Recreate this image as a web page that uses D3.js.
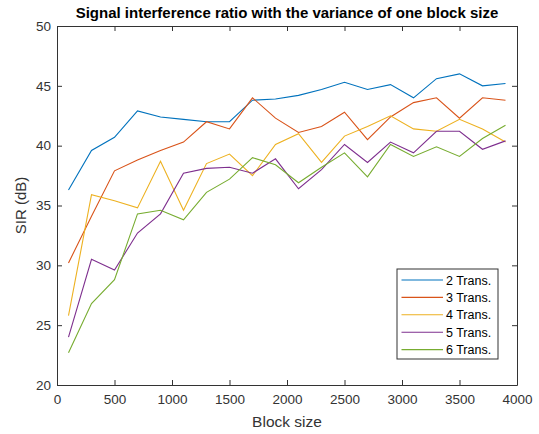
<!DOCTYPE html>
<html>
<head>
<meta charset="utf-8">
<script src="https://cdn.jsdelivr.net/npm/d3@7"></script>
<style>
  body { margin: 0; background: #fff; }
  text { font-family: Arial, "Liberation Sans", sans-serif; }
</style>
</head>
<body>
<svg id="chart" width="539" height="434"></svg>
<script>
var blockSizes = [100, 300, 500, 700, 900, 1100, 1300, 1500, 1700, 1900,
                  2100, 2300, 2500, 2700, 2900, 3100, 3300, 3500, 3700, 3900];

var trans2 = [36.3, 39.6, 40.7, 42.9, 42.4, 42.2, 42.0, 42.0, 43.8, 43.9,
              44.2, 44.7, 45.3, 44.7, 45.1, 44.0, 45.6, 46.0, 45.0, 45.2];
var trans3 = [30.2, 34.1, 37.9, 38.8, 39.6, 40.3, 42.0, 41.4, 44.0, 42.3,
              41.1, 41.6, 42.8, 40.5, 42.4, 43.6, 44.0, 42.3, 44.0, 43.8];
var trans4 = [25.8, 35.9, 35.4, 34.8, 38.7, 34.6, 38.5, 39.3, 37.5, 40.1,
              41.0, 38.6, 40.8, 41.6, 42.5, 41.4, 41.2, 42.2, 41.4, 40.3];
var trans5 = [24.0, 30.5, 29.6, 32.7, 34.3, 37.7, 38.1, 38.2, 37.7, 38.9,
              36.4, 38.0, 40.1, 38.6, 40.3, 39.4, 41.2, 41.2, 39.7, 40.4];
var trans6 = [22.7, 26.8, 28.8, 34.3, 34.6, 33.8, 36.1, 37.2, 39.0, 38.4,
              36.9, 38.2, 39.4, 37.4, 40.1, 39.1, 39.9, 39.1, 40.6, 41.7];

var seriesNames = ["2 Trans.", "3 Trans.", "4 Trans.", "5 Trans.", "6 Trans."];
var seriesValues = [trans2, trans3, trans4, trans5, trans6];
var colors = ["#0072BD", "#D95319", "#EDB120", "#7E2F8E", "#77AC30"];

var xTicks = [0, 500, 1000, 1500, 2000, 2500, 3000, 3500, 4000];
var yTicks = [20, 25, 30, 35, 40, 45, 50];

var margin = { top: 26, right: 22, bottom: 49, left: 57 },
    width = 539 - margin.left - margin.right,
    height = 434 - margin.top - margin.bottom;

var svg = d3.select("#chart");
var g = svg.append("g")
    .attr("transform", "translate(" + margin.left + "," + margin.top + ")");

var x = d3.scaleLinear().domain([0, 4000]).range([0, width]);
var y = d3.scaleLinear().domain([20, 50]).range([height, 0]);

var axisColor = "#333333";
var fmt = d3.format("d");

// axes, ticks pointing inward like matlab
var axBottom = g.append("g").attr("transform", "translate(0," + height + ")")
    .call(d3.axisBottom(x).tickValues(xTicks).tickFormat(fmt).tickSizeInner(-5).tickSizeOuter(0).tickPadding(9));
var axTop = g.append("g")
    .call(d3.axisTop(x).tickValues(xTicks).tickSizeInner(-5).tickSizeOuter(0).tickFormat(""));
var axLeft = g.append("g")
    .call(d3.axisLeft(y).tickValues(yTicks).tickFormat(fmt).tickSizeInner(-5).tickSizeOuter(0).tickPadding(6));
var axRight = g.append("g").attr("transform", "translate(" + width + ",0)")
    .call(d3.axisRight(y).tickValues(yTicks).tickSizeInner(-5).tickSizeOuter(0).tickFormat(""));

[axBottom, axTop, axLeft, axRight].forEach(function (a) {
    a.selectAll("path").attr("stroke", axisColor).attr("stroke-width", 1);
    a.selectAll("line").attr("stroke", axisColor);
    a.selectAll("text").attr("fill", axisColor).style("font-size", "13.5px");
});

var line = d3.line()
    .x(function (d, i) { return x(blockSizes[i]); })
    .y(function (d) { return y(d); });

seriesValues.forEach(function (vals, k) {
    g.append("path")
        .datum(vals)
        .attr("fill", "none")
        .attr("stroke", colors[k])
        .attr("stroke-width", 1.1)
        .attr("d", line);
});

// title and axis labels
svg.append("text")
    .attr("x", margin.left + width / 2)
    .attr("y", 18)
    .attr("text-anchor", "middle")
    .style("font-size", "15px")
    .style("font-weight", "bold")
    .attr("fill", "#000")
    .text("Signal interference ratio with the variance of one block size");

svg.append("text")
    .attr("x", margin.left + width / 2)
    .attr("y", 427)
    .attr("text-anchor", "middle")
    .style("font-size", "15.5px")
    .attr("fill", axisColor)
    .text("Block size");

svg.append("text")
    .attr("transform", "translate(26," + (margin.top + height / 2) + ") rotate(-90)")
    .attr("text-anchor", "middle")
    .style("font-size", "15px")
    .attr("fill", axisColor)
    .text("SIR (dB)");

// legend
var legend = svg.append("g").attr("transform", "translate(397,269)");
legend.append("rect")
    .attr("width", 101).attr("height", 90)
    .attr("fill", "#fff").attr("stroke", axisColor).attr("stroke-width", 1);

seriesNames.forEach(function (name, k) {
    var ly = 11 + k * 17.4;
    legend.append("line")
        .attr("x1", 4.5).attr("x2", 46)
        .attr("y1", ly).attr("y2", ly)
        .attr("stroke", colors[k]).attr("stroke-width", 1.1);
    legend.append("text")
        .attr("x", 49).attr("y", ly + 4.5)
        .style("font-size", "12.5px")
        .attr("fill", "#000")
        .text(name);
});
</script>
</body>
</html>
